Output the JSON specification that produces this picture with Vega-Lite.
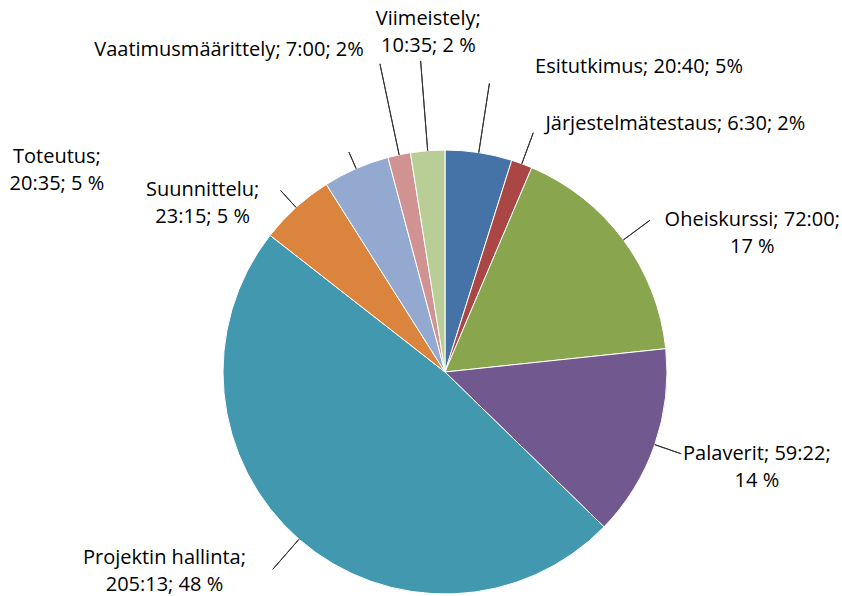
{
  "$schema": "https://vega.github.io/schema/vega-lite/v6.json",
  "width": 690,
  "height": 444,
  "autosize": {"type": "none"},
  "padding": {"left": 100, "top": 150, "right": 52, "bottom": 2},
  "background": "white",
  "config": {"view": {"stroke": null}, "text": {"font": "Open Sans", "fontSize": 20, "lineHeight": 27, "lineBreak": "\n", "align": "center", "baseline": "middle", "fill": "#000000"}},
  "data": {
    "values": [
      {"cat": "Esitutkimus", "hours": 20.667, "label": "Esitutkimus; 20:40; 5%"},
      {"cat": "Järjestelmätestaus", "hours": 6.5, "label": "Järjestelmätestaus; 6:30; 2%"},
      {"cat": "Oheiskurssi", "hours": 72.0, "label": "Oheiskurssi; 72:00;\n17 %"},
      {"cat": "Palaverit", "hours": 59.367, "label": "Palaverit; 59:22;\n14 %"},
      {"cat": "Projektin hallinta", "hours": 205.217, "label": "Projektin hallinta;\n205:13; 48 %"},
      {"cat": "Suunnittelu", "hours": 23.25, "label": "Suunnittelu;\n23:15; 5 %"},
      {"cat": "Toteutus", "hours": 20.583, "label": "Toteutus;\n20:35; 5 %"},
      {"cat": "Vaatimusmäärittely", "hours": 7.0, "label": "Vaatimusmäärittely; 7:00; 2%"},
      {"cat": "Viimeistely", "hours": 10.583, "label": "Viimeistely;\n10:35; 2 %"}
    ]
  },
  "encoding": {
    "theta": {"field": "hours", "type": "quantitative", "stack": true},
    "detail": {"field": "cat", "type": "nominal"}
  },
  "layer": [
    {
      "mark": {"type": "arc", "stroke": "white", "strokeWidth": 1},
      "encoding": {
        "color": {
          "field": "cat", "type": "nominal", "legend": null,
          "scale": {
            "domain": ["Esitutkimus", "Järjestelmätestaus", "Oheiskurssi", "Palaverit", "Projektin hallinta", "Suunnittelu", "Toteutus", "Vaatimusmäärittely", "Viimeistely"],
            "range": ["#4572A7", "#AA4643", "#89A54E", "#71588F", "#4198AF", "#DB843D", "#93A9CF", "#D19392", "#B9CD96"]
          }
        }
      }
    },
    {"mark": {"type": "arc", "padAngle": 3.1416, "radius": 292, "radius2": 222, "fillOpacity": 0, "stroke": "#333333", "strokeWidth": 1},
     "encoding": {"strokeOpacity": {"condition": {"test": "datum.cat === 'Esitutkimus'", "value": 1}, "value": 0}}},
    {"mark": {"type": "arc", "padAngle": 3.1416, "radius": 255, "radius2": 222, "fillOpacity": 0, "stroke": "#333333", "strokeWidth": 1},
     "encoding": {"strokeOpacity": {"condition": {"test": "datum.cat === 'Järjestelmätestaus'", "value": 1}, "value": 0}}},
    {"mark": {"type": "arc", "padAngle": 3.1416, "radius": 255, "radius2": 222, "fillOpacity": 0, "stroke": "#333333", "strokeWidth": 1},
     "encoding": {"strokeOpacity": {"condition": {"test": "datum.cat === 'Oheiskurssi'", "value": 1}, "value": 0}}},
    {"mark": {"type": "arc", "padAngle": 3.1416, "radius": 250, "radius2": 222, "fillOpacity": 0, "stroke": "#333333", "strokeWidth": 1},
     "encoding": {"strokeOpacity": {"condition": {"test": "datum.cat === 'Palaverit'", "value": 1}, "value": 0}}},
    {"mark": {"type": "arc", "padAngle": 3.1416, "radius": 262, "radius2": 222, "fillOpacity": 0, "stroke": "#333333", "strokeWidth": 1},
     "encoding": {"strokeOpacity": {"condition": {"test": "datum.cat === 'Projektin hallinta'", "value": 1}, "value": 0}}},
    {"mark": {"type": "arc", "padAngle": 3.1416, "radius": 245, "radius2": 222, "fillOpacity": 0, "stroke": "#333333", "strokeWidth": 1},
     "encoding": {"strokeOpacity": {"condition": {"test": "datum.cat === 'Suunnittelu'", "value": 1}, "value": 0}}},
    {"mark": {"type": "arc", "padAngle": 3.1416, "radius": 240, "radius2": 222, "fillOpacity": 0, "stroke": "#333333", "strokeWidth": 1},
     "encoding": {"strokeOpacity": {"condition": {"test": "datum.cat === 'Toteutus'", "value": 1}, "value": 0}}},
    {"mark": {"type": "arc", "padAngle": 3.1416, "radius": 315, "radius2": 222, "fillOpacity": 0, "stroke": "#333333", "strokeWidth": 1},
     "encoding": {"strokeOpacity": {"condition": {"test": "datum.cat === 'Vaatimusmäärittely'", "value": 1}, "value": 0}}},
    {"mark": {"type": "arc", "padAngle": 3.1416, "radius": 312, "radius2": 222, "fillOpacity": 0, "stroke": "#333333", "strokeWidth": 1},
     "encoding": {"strokeOpacity": {"condition": {"test": "datum.cat === 'Viimeistely'", "value": 1}, "value": 0}}},
    {"mark": {"type": "text", "radius": 309, "dx": 147},
     "encoding": {"text": {"condition": {"test": "datum.cat === 'Esitutkimus'", "field": "label", "type": "nominal"}, "value": ""}}},
    {"mark": {"type": "text", "radius": 264, "dx": 139},
     "encoding": {"text": {"condition": {"test": "datum.cat === 'Järjestelmätestaus'", "field": "label", "type": "nominal"}, "value": ""}}},
    {"mark": {"type": "text", "radius": 233, "dx": 120, "dy": -13.5},
     "encoding": {"text": {"condition": {"test": "datum.cat === 'Oheiskurssi'", "field": "label", "type": "nominal"}, "value": ""}}},
    {"mark": {"type": "text", "radius": 293, "dx": 35, "dy": -13.5},
     "encoding": {"text": {"condition": {"test": "datum.cat === 'Palaverit'", "field": "label", "type": "nominal"}, "value": ""}}},
    {"mark": {"type": "text", "radius": 267, "dx": -105, "dy": -15},
     "encoding": {"text": {"condition": {"test": "datum.cat === 'Projektin hallinta'", "field": "label", "type": "nominal"}, "value": ""}}},
    {"mark": {"type": "text", "radius": 227, "dx": -90, "dy": -13.5},
     "encoding": {"text": {"condition": {"test": "datum.cat === 'Suunnittelu'", "field": "label", "type": "nominal"}, "value": ""}}},
    {"mark": {"type": "text", "radius": 220, "dx": -300, "dy": -13.5},
     "encoding": {"text": {"condition": {"test": "datum.cat === 'Toteutus'", "field": "label", "type": "nominal"}, "value": ""}}},
    {"mark": {"type": "text", "radius": 329, "dx": -148},
     "encoding": {"text": {"condition": {"test": "datum.cat === 'Vaatimusmäärittely'", "field": "label", "type": "nominal"}, "value": ""}}},
    {"mark": {"type": "text", "radius": 341, "dx": 10, "dy": -13.5},
     "encoding": {"text": {"condition": {"test": "datum.cat === 'Viimeistely'", "field": "label", "type": "nominal"}, "value": ""}}}
  ]
}
